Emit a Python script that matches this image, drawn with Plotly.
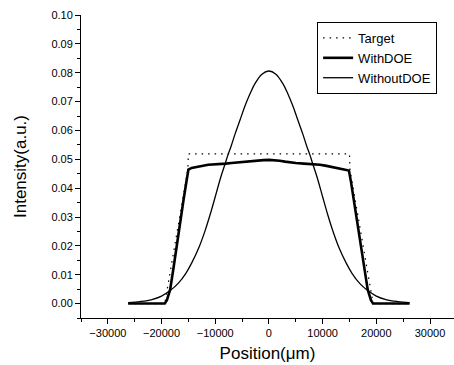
import plotly.graph_objects as go

# ---- data ----
target_x = [-26200, -19400, -15100, -15000, 15000, 15100, 19400, 26200]
target_y = [0.0, 0.0, 0.0464, 0.0519, 0.0519, 0.0464, 0.0, 0.0]

withdoe_x = [-26200, -20000, -19400, -19000, -18400, -17800, -16900, -15900, -15300, -15000,
             -14400, -13500, -12500, -11300, -10000, -9000, -8000, -7000, -6000, -5000,
             -4000, -3000, -2000, -1000, 0, 1000, 2000, 3000, 3900, 5000,
             6500, 7600, 8500, 9500, 10500, 11300, 12300, 13200, 14000, 14900,
             15300, 15900, 16900, 17800, 18400, 19000, 19400, 20000, 26200]
withdoe_y = [0.0, 0.0, 0.0, 0.0012, 0.0048, 0.0120, 0.0240, 0.0360, 0.0430, 0.0464,
             0.0470, 0.0474, 0.0477, 0.0481, 0.0482, 0.0484, 0.0485, 0.0487, 0.0489, 0.0490,
             0.0493, 0.0495, 0.0497, 0.0497, 0.0498, 0.0497, 0.0495, 0.0492, 0.0489, 0.0487,
             0.0485, 0.0484, 0.0482, 0.0481, 0.0478, 0.0475, 0.0472, 0.0470, 0.0467, 0.0461,
             0.0420, 0.0350, 0.0235, 0.0115, 0.0048, 0.0012, 0.0, 0.0, 0.0]

without_x = [-26200, -24000, -21800, -20000, -18400, -16900, -15500, -14400, -13000, -11900,
             -11000, -10000, -9000, -8200, -7600, -7000, -6300, -5400, -4500, -3500,
             -2600, -1300, 0, 1300, 2600, 3500, 4500, 5400, 6300, 7000,
             7600, 8200, 9000, 10000, 11000, 11900, 13000, 14400, 15500, 16900,
             18400, 20000, 21800, 24000, 26200]
without_y = [0.0003, 0.0007, 0.0014, 0.0026, 0.0045, 0.0070, 0.0104, 0.0140, 0.0196, 0.0252,
             0.0305, 0.0370, 0.0436, 0.0482, 0.0517, 0.0548, 0.0588, 0.0635, 0.0683, 0.0728,
             0.0762, 0.0795, 0.0806, 0.0795, 0.0762, 0.0728, 0.0683, 0.0635, 0.0588, 0.0548,
             0.0517, 0.0482, 0.0436, 0.0370, 0.0305, 0.0252, 0.0196, 0.0140, 0.0104, 0.0070,
             0.0045, 0.0026, 0.0014, 0.0007, 0.0003]

x_ticks = [-30000, -20000, -10000, 0, 10000, 20000, 30000]
y_ticks = [0.00, 0.01, 0.02, 0.03, 0.04, 0.05, 0.06, 0.07, 0.08, 0.09, 0.10]

FONT = "Liberation Sans, Arial, sans-serif"

fig = go.Figure()
fig.add_trace(go.Scatter(x=target_x, y=target_y, mode="lines", name="Target",
                         line=dict(color="black", width=1.2, dash="1.5px,5px")))
fig.add_trace(go.Scatter(x=withdoe_x, y=withdoe_y, mode="lines", name="WithDOE",
                         line=dict(color="black", width=2.6)))
fig.add_trace(go.Scatter(x=without_x, y=without_y, mode="lines", name="WithoutDOE",
                         line=dict(color="black", width=1.3, shape="spline", smoothing=1.0)))

axis_common = dict(showline=True, linecolor="black", linewidth=1, ticks="outside",
                   ticklen=5, tickwidth=1, tickcolor="black", showgrid=False,
                   zeroline=False, mirror=False,
                   tickfont=dict(family=FONT, size=11, color="black"))

fig.update_xaxes(range=[-35000, 34470], tickvals=x_ticks, tickformat="d",
                 minor=dict(dtick=5000, tick0=0, ticks="outside", ticklen=3,
                            tickcolor="black", showgrid=False),
                 title=dict(text="Position(μm)", font=dict(family=FONT, size=17, color="black"),
                            standoff=8),
                 **axis_common)
fig.update_yaxes(range=[-0.005, 0.10], tickvals=y_ticks, tickformat=".2f",
                 minor=dict(dtick=0.005, tick0=0, ticks="outside", ticklen=3,
                            tickcolor="black", showgrid=False),
                 title=dict(text="Intensity(a.u.)", font=dict(family=FONT, size=17, color="black"),
                            standoff=20),
                 **axis_common)

fig.update_layout(
    width=454, height=365,
    margin=dict(l=81, r=0, t=15, b=47),
    plot_bgcolor="white", paper_bgcolor="white",
    showlegend=True,
    legend=dict(x=0.633, y=0.977, xanchor="left", yanchor="top",
                bgcolor="white", bordercolor="black", borderwidth=1,
                font=dict(family=FONT, size=13, color="black"),
                tracegroupgap=0, itemwidth=30),
)

fig.write_html("out.html", config={"displayModeBar": False},
               post_script="document.body.style.margin='0';document.body.style.overflow='hidden';")
